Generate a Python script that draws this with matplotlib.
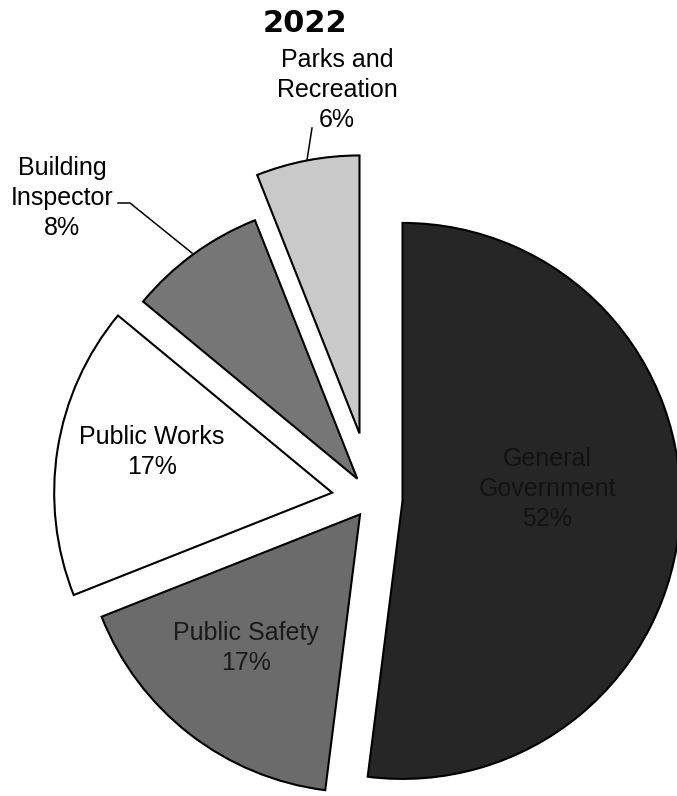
import matplotlib
matplotlib.use('Agg')
import matplotlib.pyplot as plt

# data
categories = ['General\nGovernment', 'Public Safety', 'Public Works',
              'Building\nInspector', 'Parks and\nRecreation']
shares = [52, 17, 17, 8, 6]
title = '2022'

# styling
colors = ['#262626', '#6b6b6b', '#ffffff', '#767676', '#c9c9c9']
explode = [0.11, 0.07, 0.145, 0.09, 0.24]   # fraction of radius
text_colors = ['#121212', '#1a1a1a', 'black', 'black', 'black']

W, H = 677, 796
CENTER = (372, 499)      # pixel coords, y down
RADIUS = 278


def px(x, y):
    """pixel (y down) -> data (y up)"""
    return x, H - y


# label centres (pixel coords) and leader lines
label_pos = [(547, 489), (246, 648), (152, 452), (62, 198), (337, 90)]
leaders = {
    3: [(118, 203), (130, 203), (192, 253)],
    4: [(312, 128), (307, 160)],
}

plt.rcParams['font.family'] = ['Liberation Sans', 'DejaVu Sans']

fig = plt.figure(figsize=(W / 100, H / 100), dpi=100)
ax = fig.add_axes([0, 0, 1, 1])

# matplotlib's explode is in data units -> scale by radius
ax.pie(shares, colors=colors, explode=[e * RADIUS for e in explode],
       startangle=90, counterclock=False, center=px(*CENTER), radius=RADIUS,
       wedgeprops=dict(edgecolor='black', linewidth=1.5))

for i, (name, pct) in enumerate(zip(categories, shares)):
    ax.text(*px(*label_pos[i]), f'{name}\n{pct}%', ha='center', va='center',
            fontsize=18, linespacing=1.3, color=text_colors[i])

for pts in leaders.values():
    xs = [p[0] for p in pts]
    ys = [H - p[1] for p in pts]
    ax.plot(xs, ys, color='black', lw=1.1)

ax.text(*px(305, 24), title, ha='center', va='center', fontsize=22,
        fontweight='bold', family='DejaVu Sans')

ax.set_xlim(0, W)
ax.set_ylim(0, H)
ax.set_aspect('equal')
ax.axis('off')

fig.savefig('out.png', dpi=100, facecolor='white')
